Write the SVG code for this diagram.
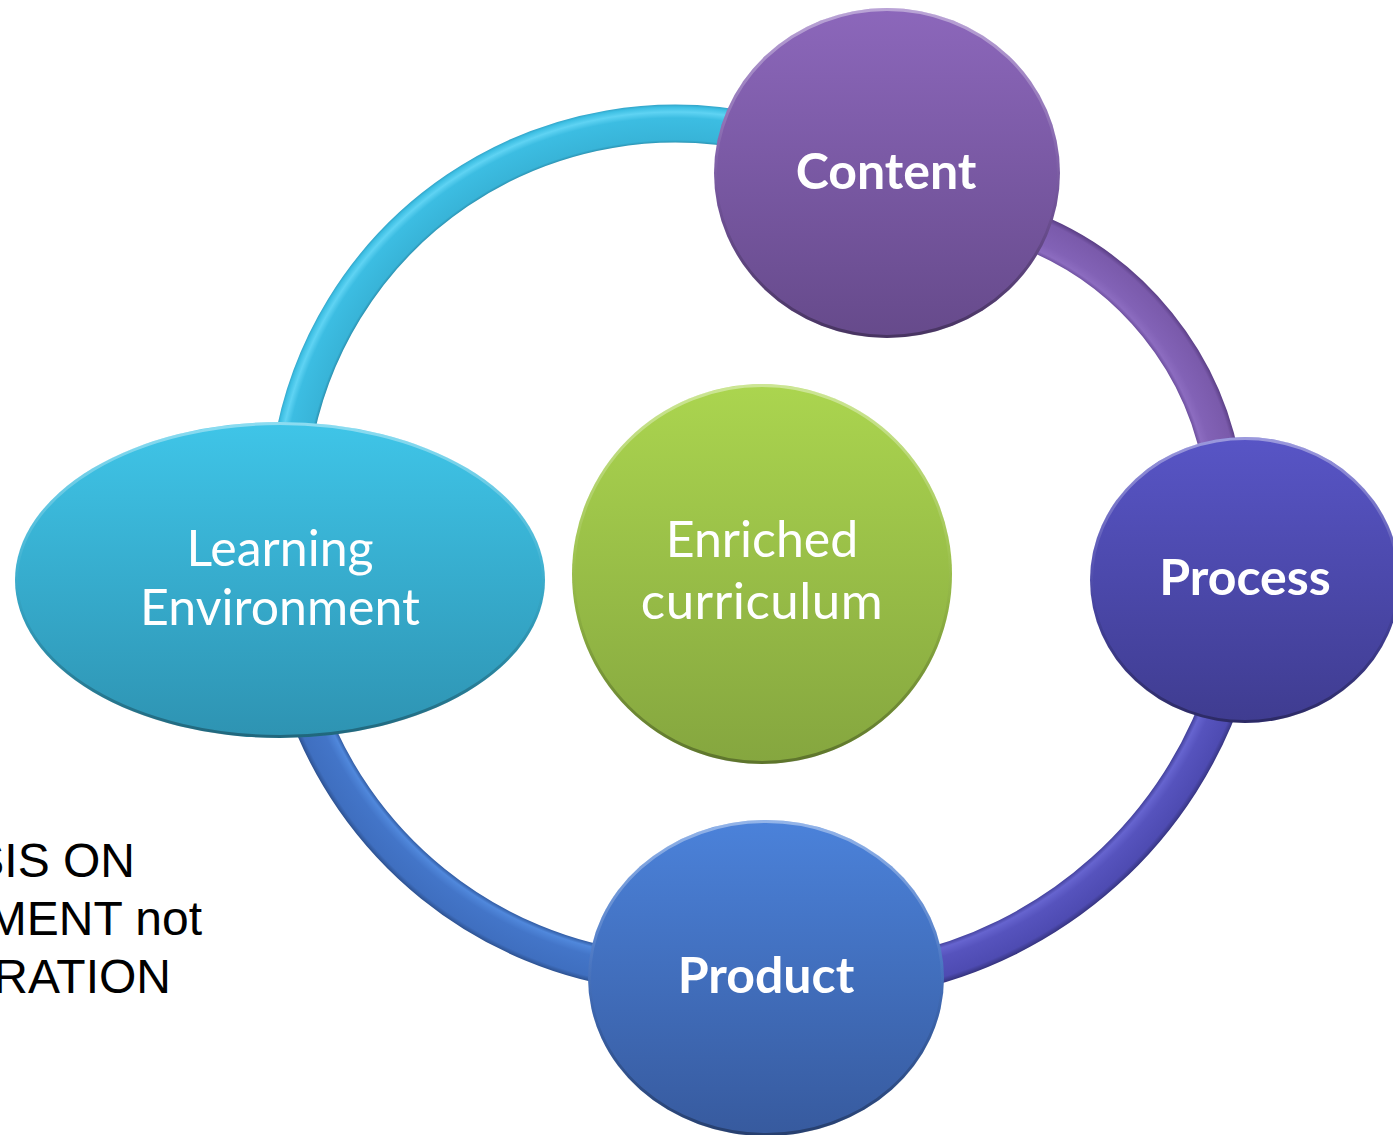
<svg xmlns="http://www.w3.org/2000/svg" width="1393" height="1135" viewBox="0 0 1393 1135">
  <defs>
    <style>
      .band { fill: none; stroke-width: 38; }
      .lbl { fill: #ffffff; font-family: Lato, "Open Sans", "Liberation Sans", sans-serif; text-anchor: middle; }
      .bold { font-weight: bold; font-size: 50px; }
      .reg { font-weight: normal; font-size: 50px; }
      .rim { fill: none; stroke: url(#rimGrad); stroke-width: 3; }
      .note { fill: #000000; font-family: "Liberation Sans", Arial, sans-serif; font-size: 48px; text-anchor: end; }
    </style>
    <linearGradient id="rimGrad" x1="0" y1="0" x2="0" y2="1">
      <stop offset="0" stop-color="#ffffff" stop-opacity="0.4"/>
      <stop offset="0.45" stop-color="#ffffff" stop-opacity="0.05"/>
      <stop offset="0.6" stop-color="#000000" stop-opacity="0.05"/>
      <stop offset="1" stop-color="#000000" stop-opacity="0.3"/>
    </linearGradient>
    <linearGradient id="gContent" x1="0" y1="0" x2="0" y2="1">
      <stop offset="0" stop-color="#8c67bb"/>
      <stop offset="1" stop-color="#664a8b"/>
    </linearGradient>
    <linearGradient id="gProcess" x1="0" y1="0" x2="0" y2="1">
      <stop offset="0" stop-color="#5855c6"/>
      <stop offset="1" stop-color="#3f3c90"/>
    </linearGradient>
    <linearGradient id="gProduct" x1="0" y1="0" x2="0" y2="1">
      <stop offset="0" stop-color="#4b82da"/>
      <stop offset="1" stop-color="#375a9e"/>
    </linearGradient>
    <linearGradient id="gLearn" x1="0" y1="0" x2="0" y2="1">
      <stop offset="0" stop-color="#3fc5e8"/>
      <stop offset="1" stop-color="#2e93b2"/>
    </linearGradient>
    <linearGradient id="gEnrich" x1="0" y1="0" x2="0" y2="1">
      <stop offset="0" stop-color="#abd54f"/>
      <stop offset="1" stop-color="#85a63f"/>
    </linearGradient>
    <radialGradient id="bCyan" gradientUnits="userSpaceOnUse" cx="675" cy="512" r="407" fx="675" fy="512">
      <stop offset="0.9066" stop-color="#2a8fae"/>
      <stop offset="0.9140" stop-color="#38b4d8"/>
      <stop offset="0.9681" stop-color="#3cbde2"/>
      <stop offset="0.9828" stop-color="#5fd3f3"/>
      <stop offset="0.9951" stop-color="#3dbfe3"/>
      <stop offset="1" stop-color="#35a8cc"/>
    </radialGradient>
    <radialGradient id="bPurple" gradientUnits="userSpaceOnUse" cx="915" cy="521" r="331" fx="915" fy="521">
      <stop offset="0.8852" stop-color="#6e50a0"/>
      <stop offset="0.8970" stop-color="#8c6cc0"/>
      <stop offset="0.9200" stop-color="#8262b6"/>
      <stop offset="0.9850" stop-color="#7a5aab"/>
      <stop offset="1" stop-color="#5b3f86"/>
    </radialGradient>
    <radialGradient id="bIndigo" gradientUnits="userSpaceOnUse" cx="815" cy="548" r="453" fx="815" fy="548">
      <stop offset="0.9161" stop-color="#45439e"/>
      <stop offset="0.9260" stop-color="#6664cf"/>
      <stop offset="0.9450" stop-color="#5653bd"/>
      <stop offset="0.9880" stop-color="#4e4bb2"/>
      <stop offset="1" stop-color="#36347f"/>
    </radialGradient>
    <radialGradient id="bBlue" gradientUnits="userSpaceOnUse" cx="688" cy="568" r="425" fx="688" fy="568">
      <stop offset="0.9106" stop-color="#335ea6"/>
      <stop offset="0.9200" stop-color="#5088dc"/>
      <stop offset="0.9400" stop-color="#4375c8"/>
      <stop offset="0.9880" stop-color="#3f6fc0"/>
      <stop offset="1" stop-color="#2d5190"/>
    </radialGradient>
  </defs>

  <g id="connectors">
    <path class="band" stroke="url(#bCyan)" d="M 292 450 A 388 388 0 0 1 760 133"/>
    <path class="band" stroke="url(#bPurple)" d="M 1020 227 A 312 312 0 0 1 1224 480"/>
    <path class="band" stroke="url(#bIndigo)" d="M 1228 680 A 434 434 0 0 1 900 974"/>
    <path class="band" stroke="url(#bBlue)" d="M 640 971 A 406 406 0 0 1 304 700"/>
  </g>

  <g id="node-content">
    <ellipse cx="887" cy="173" rx="173" ry="165" fill="url(#gContent)"/>
    <ellipse class="rim" cx="887" cy="173" rx="171.5" ry="163.5"/>
    <text class="lbl bold" x="886" y="189">Content</text>
  </g>

  <g id="node-process">
    <ellipse cx="1245" cy="580" rx="155" ry="143" fill="url(#gProcess)"/>
    <ellipse class="rim" cx="1245" cy="580" rx="153.5" ry="141.5"/>
    <text class="lbl bold" x="1245" y="595">Process</text>
  </g>

  <g id="node-product">
    <ellipse cx="766" cy="978" rx="178" ry="158" fill="url(#gProduct)"/>
    <ellipse class="rim" cx="766" cy="978" rx="176.5" ry="156.5"/>
    <text class="lbl bold" x="766" y="993">Product</text>
  </g>

  <g id="node-learning-environment">
    <ellipse cx="280" cy="580" rx="265" ry="158" fill="url(#gLearn)"/>
    <ellipse class="rim" cx="280" cy="580" rx="263.5" ry="156.5"/>
    <text class="lbl reg" x="280" y="566">Learning</text>
    <text class="lbl reg" x="280" y="625">Environment</text>
  </g>

  <g id="node-enriched-curriculum">
    <ellipse cx="762" cy="574" rx="190" ry="190" fill="url(#gEnrich)"/>
    <ellipse class="rim" cx="762" cy="574" rx="188.5" ry="188.5"/>
    <text class="lbl reg" x="762" y="557">Enriched</text>
    <text class="lbl reg" x="762" y="619" style="font-size:51px" letter-spacing="0.5">curriculum</text>
  </g>

  <g id="note">
    <text class="note" x="135" y="877">SIS ON</text>
    <text class="note" x="202" y="935">MENT not</text>
    <text class="note" x="171" y="993">RATION</text>
  </g>
</svg>
